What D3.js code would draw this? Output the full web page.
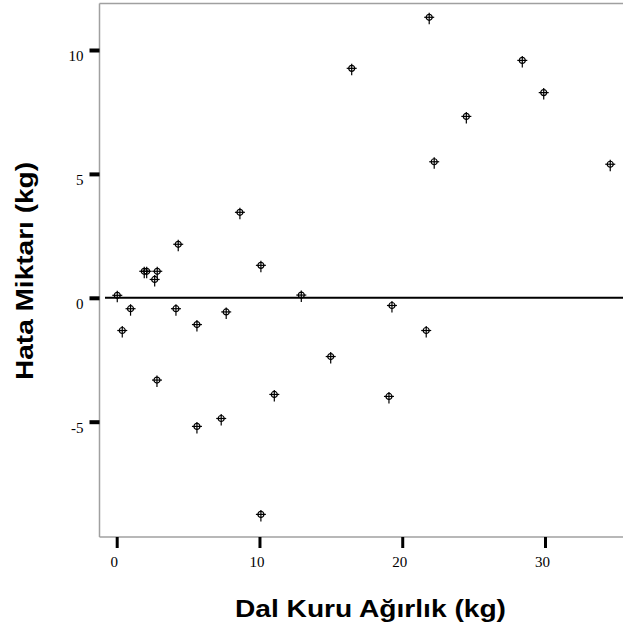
<!DOCTYPE html>
<html>
<head>
<meta charset="utf-8">
<script src="https://cdn.jsdelivr.net/npm/d3@7"></script>
<style>
  html, body { margin: 0; padding: 0; background: #fff; }
  svg { display: block; }
</style>
</head>
<body>
<svg id="chart" width="623" height="637"></svg>
<script>
// Dal kuru ağırlığı (kg) ve tahmin hatası (kg)
const dalKuruAgirlik = [0.04, 0.39, 0.97, 1.93, 2.10, 2.66, 2.84, 2.82, 4.15, 4.31,
  5.62, 5.62, 7.32, 7.67, 8.63, 10.1, 10.1, 11.04, 12.93, 14.99,
  16.46, 19.28, 19.07, 21.68, 21.89, 22.24, 24.49, 28.41, 29.91, 34.57];
const hataMiktari = [0.10, -1.32, -0.44, 1.07, 1.07, 0.74, 1.07, -3.32, -0.44, 2.16,
  -1.08, -5.19, -4.87, -0.57, 3.45, 1.31, -8.74, -3.90, 0.11, -2.37,
  9.26, -0.31, -3.98, -1.32, 11.32, 5.49, 7.32, 9.58, 8.28, 5.39];
const xTicks = [0, 10, 20, 30];
const yTicks = [-5, 0, 5, 10];
const xTitle = "Dal Kuru Ağırlık (kg)";
const yTitle = "Hata Miktarı (kg)";

const svg = d3.select("#chart");

const x = d3.scaleLinear().domain([0, 30]).range([116.7, 545]);
const y = d3.scaleLinear().domain([-5, 10]).range([421.7, 50]);

const frameLeft = 99.5, frameTop = 3.5, frameBottom = 537, frameRight = 640;

// Plot frame (left, top, bottom; right side runs past the edge)
const frame = svg.append("g").attr("stroke", "#a0a0a0").attr("stroke-width", 1.5).attr("fill", "none");
frame.append("line").attr("x1", frameLeft).attr("x2", frameLeft).attr("y1", frameTop).attr("y2", frameBottom);
frame.append("line").attr("x1", frameLeft).attr("x2", frameRight).attr("y1", frameTop).attr("y2", frameTop);
frame.append("line").attr("x1", frameLeft).attr("x2", frameRight).attr("y1", frameBottom).attr("y2", frameBottom);

const plainNumber = d => String(d);

// X axis
const xAxis = d3.axisBottom(x).tickValues(xTicks).tickSize(11).tickPadding(8).tickFormat(plainNumber);
const gx = svg.append("g").attr("transform", `translate(0,${frameBottom})`).call(xAxis);
gx.select(".domain").remove();
gx.selectAll(".tick line").attr("stroke", "#000").attr("stroke-width", 3);
gx.selectAll(".tick text")
  .attr("font-family", "'Liberation Serif', 'Times New Roman', serif")
  .attr("font-size", 15).attr("fill", "#000").attr("dx", -3);

// Y axis
const yAxis = d3.axisLeft(y).tickValues(yTicks).tickSize(10).tickPadding(6).tickFormat(plainNumber);
const gy = svg.append("g").attr("transform", `translate(${frameLeft},0)`).call(yAxis);
gy.select(".domain").remove();
gy.selectAll(".tick line").attr("stroke", "#000").attr("stroke-width", 4);
gy.selectAll(".tick text")
  .attr("font-family", "'Liberation Serif', 'Times New Roman', serif")
  .attr("font-size", 15).attr("fill", "#000").attr("dy", "0.7em");

// Reference line at zero error
svg.append("line")
  .attr("x1", 105).attr("x2", frameRight)
  .attr("y1", y(0)).attr("y2", y(0))
  .attr("stroke", "#000").attr("stroke-width", 2);

// Data markers: small circle with crosshair and stem
const pts = dalKuruAgirlik.map((d, i) => ({ x: d, y: hataMiktari[i] }));
const m = svg.append("g").selectAll("g").data(pts).join("g")
  .attr("transform", d => `translate(${x(d.x)},${y(d.y)})`)
  .attr("stroke", "#000").attr("fill", "none");
m.append("circle").attr("r", 3).attr("stroke-width", 1.2);
m.append("line").attr("x1", -5).attr("x2", 5).attr("y1", 0).attr("y2", 0).attr("stroke-width", 1.2);
m.append("line").attr("x1", 0).attr("x2", 0).attr("y1", -4.5).attr("y2", 7).attr("stroke-width", 1.2);

// Axis titles
svg.append("text")
  .attr("x", 370.5).attr("y", 616.5)
  .attr("text-anchor", "middle")
  .attr("font-family", "'Liberation Sans', Arial, sans-serif")
  .attr("font-weight", "bold").attr("font-size", 24).attr("fill", "#000")
  .attr("textLength", 271).attr("lengthAdjust", "spacingAndGlyphs")
  .text(xTitle);

svg.append("text")
  .attr("transform", "translate(32.5,271) rotate(-90)")
  .attr("text-anchor", "middle")
  .attr("font-family", "'Liberation Sans', Arial, sans-serif")
  .attr("font-weight", "bold").attr("font-size", 24).attr("fill", "#000")
  .attr("textLength", 218).attr("lengthAdjust", "spacingAndGlyphs")
  .text(yTitle);
</script>
</body>
</html>
